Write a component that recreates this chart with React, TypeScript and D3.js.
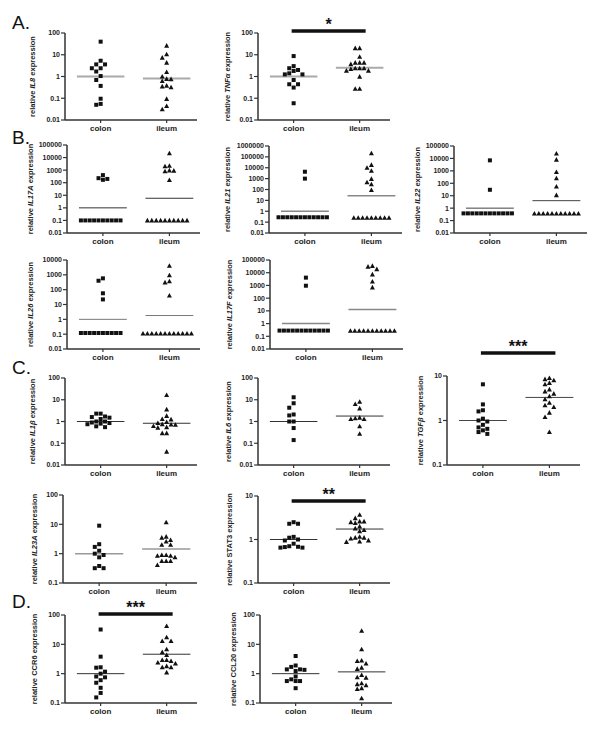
import React from 'react'
import * as d3 from 'd3'

// groups on the x axis
const categories = ['colon', 'ileum']

// A. relative expression
const il8Colon = [40, 5.3, 3.6, 3.6, 2.4, 2.4, 1.7, 1.05, 0.69, 0.37, 0.095, 0.05, 0.055]
const il8Ileum = [26, 10.5, 7.3, 4.3, 1.6, 1.0, 0.77, 0.75, 0.62, 0.38, 0.35, 0.32, 0.093, 0.044, 0.031]
const il8Median = [1, 0.8]

const tnfColon = [8.7, 3.0, 2.4, 2.0, 1.8, 1.4, 1.25, 1.25, 0.69, 0.44, 0.44, 0.31, 0.059]
const tnfIleum = [20, 20, 8.1, 4.3, 4.3, 4.3, 3.7, 2.4, 2.4, 2.4, 2.2, 1.85, 1.85, 0.98, 0.27, 0.27]
const tnfMedian = [1, 2.5]

// B.
const il17aColon = [400, 230, 200, 170, 0.1, 0.1, 0.1, 0.1, 0.1, 0.1, 0.1, 0.1, 0.1, 0.1]
const il17aIleum = [22000, 2200, 2000, 950, 900, 800, 165, 0.1, 0.1, 0.1, 0.1, 0.1, 0.1, 0.1, 0.1, 0.1, 0.1]
const il17aMedian = [1, 5.8]

const il21Colon = [4300, 1000, 0.28, 0.28, 0.28, 0.28, 0.28, 0.28, 0.28, 0.28, 0.28, 0.28, 0.28, 0.28]
const il21Ileum = [210000, 18000, 10000, 5300, 930, 460, 300, 90, 0.25, 0.25, 0.25, 0.25, 0.25, 0.25, 0.25, 0.25, 0.25]
const il21Median = [1, 27]

const il22Colon = [7000, 30, 0.38, 0.38, 0.38, 0.38, 0.38, 0.38, 0.38, 0.38, 0.38, 0.38, 0.38, 0.38]
const il22Ileum = [25000, 8000, 800, 250, 55, 11, 0.37, 0.37, 0.37, 0.37, 0.37, 0.37, 0.37, 0.37, 0.37, 0.37, 0.37]
const il22Median = [1, 4]

const il26Colon = [580, 400, 57, 22, 0.12, 0.12, 0.12, 0.12, 0.12, 0.12, 0.12, 0.12, 0.12, 0.12]
const il26Ileum = [4100, 930, 370, 310, 40, 0.11, 0.11, 0.11, 0.11, 0.11, 0.11, 0.11, 0.11, 0.11, 0.11, 0.11, 0.11]
const il26Median = [1, 1.8]

const il17fColon = [4100, 950, 0.28, 0.28, 0.28, 0.28, 0.28, 0.28, 0.28, 0.28, 0.28, 0.28, 0.28, 0.28]
const il17fIleum = [34000, 30000, 19000, 7400, 2000, 700, 0.27, 0.27, 0.27, 0.27, 0.27, 0.27, 0.27, 0.27, 0.27, 0.27, 0.27]
const il17fMedian = [1, 13]

// C.
const il1bColon = [2.3, 2.3, 1.7, 1.6, 1.5, 1.3, 1.0, 1.0, 0.9, 0.85, 0.8, 0.75, 0.6, 0.55]
const il1bIleum = [16.5, 3.6, 1.8, 1.3, 1.25, 0.95, 0.85, 0.75, 0.72, 0.7, 0.62, 0.55, 0.52, 0.29, 0.29, 0.041]
const il1bMedian = [1, 0.83]

const il6Colon = [13, 6.9, 4.3, 2.1, 1.9, 1.0, 1.0, 0.5, 0.14]
const il6Ileum = [8.1, 6.3, 4.0, 1.5, 1.4, 1.3, 1.3, 0.6, 0.27]
const il6Median = [1, 1.78]

const tgfbColon = [6.5, 2.3, 1.7, 1.6, 1.1, 1.0, 0.95, 0.8, 0.7, 0.65, 0.6, 0.55, 0.5]
const tgfbIleum = [9, 8.5, 8, 7, 6.5, 5, 4.5, 4, 3.5, 3, 2.5, 2.2, 2, 1.5, 1.2, 0.55]
const tgfbMedian = [1, 3.3]

const il23aColon = [9, 2.1, 1.7, 1.26, 1.0, 0.9, 0.75, 0.38, 0.32, 0.32]
const il23aIleum = [11.7, 3.8, 3.5, 2.9, 2.6, 2.0, 2.0, 0.9, 0.9, 0.85, 0.85, 0.75, 0.56, 0.56, 0.56, 0.41]
const il23aMedian = [1, 1.45]

const stat3Colon = [2.3, 2.3, 2.5, 1.15, 1.1, 1.0, 0.95, 0.8, 0.7, 0.67, 0.65, 0.65, 0.68]
const stat3Ileum = [3.7, 3.1, 2.6, 2.6, 2.5, 2.4, 2.0, 1.8, 1.65, 1.55, 1.15, 1.1, 1.1, 1.05, 0.95, 0.9, 0.88]
const stat3Median = [1, 1.74]

// D.
const ccr6Colon = [32, 3.8, 1.65, 1.6, 1.17, 1.0, 0.8, 0.75, 0.6, 0.49, 0.33, 0.22, 0.155]
const ccr6Ileum = [42, 17.4, 13, 13, 6.8, 5.4, 4.3, 2.9, 2.9, 2.7, 2.4, 2.2, 1.8, 1.65, 1.65, 1.1]
const ccr6Median = [1, 4.6]

const ccl20Colon = [4.0, 1.9, 1.7, 1.4, 1.4, 1.35, 1.23, 0.8, 0.64, 0.56, 0.56, 0.56, 0.32]
const ccl20Ileum = [29, 6.8, 2.8, 2.7, 2.2, 1.6, 1.45, 0.9, 0.75, 0.73, 0.47, 0.44, 0.4, 0.32, 0.3, 0.145]
const ccl20Median = [1, 1.15]

const FONT = 'Liberation Sans, Arial, Helvetica, sans-serif'

type Panel = {
  gene: string
  italic: boolean
  colon: number[]
  ileum: number[]
  median: number[]
  domain: [number, number]
  x0: number
  x1: number
  top: number
  bot: number
  titleDx: number
  medColor: string
  medWidth: number
  sig?: { y: number; text: string }
}

const panels: Panel[] = [
  { gene: 'IL8', italic: true, colon: il8Colon, ileum: il8Ileum, median: il8Median, domain: [0.01, 100], x0: 65, x1: 197, top: 33, bot: 120, titleDx: 30, medColor: '#aaa', medWidth: 2 },
  { gene: 'TNFα', italic: true, colon: tnfColon, ileum: tnfIleum, median: tnfMedian, domain: [0.01, 100], x0: 258, x1: 390, top: 33, bot: 120, titleDx: 28, medColor: '#aaa', medWidth: 2, sig: { y: 31, text: '*' } },
  { gene: 'IL17A', italic: true, colon: il17aColon, ileum: il17aIleum, median: il17aMedian, domain: [0.01, 1e5], x0: 67, x1: 200, top: 145, bot: 233, titleDx: 34, medColor: '#333', medWidth: 1 },
  { gene: 'IL21', italic: true, colon: il21Colon, ileum: il21Ileum, median: il21Median, domain: [0.01, 1e6], x0: 269, x1: 402, top: 146, bot: 233, titleDx: 39, medColor: '#888', medWidth: 1.5 },
  { gene: 'IL22', italic: true, colon: il22Colon, ileum: il22Ileum, median: il22Median, domain: [0.01, 1e5], x0: 454, x1: 587, top: 146, bot: 233, titleDx: 34, medColor: '#444', medWidth: 1 },
  { gene: 'IL26', italic: true, colon: il26Colon, ileum: il26Ileum, median: il26Median, domain: [0.01, 1e4], x0: 67, x1: 200, top: 260, bot: 349, titleDx: 34, medColor: '#777', medWidth: 1 },
  { gene: 'IL17F', italic: true, colon: il17fColon, ileum: il17fIleum, median: il17fMedian, domain: [0.01, 1e5], x0: 270, x1: 403, top: 260, bot: 349, titleDx: 38, medColor: '#888', medWidth: 1.5 },
  { gene: 'IL1β', italic: true, colon: il1bColon, ileum: il1bIleum, median: il1bMedian, domain: [0.01, 100], x0: 65, x1: 197, top: 378, bot: 465, titleDx: 30, medColor: '#333', medWidth: 1 },
  { gene: 'IL6', italic: true, colon: il6Colon, ileum: il6Ileum, median: il6Median, domain: [0.01, 100], x0: 258, x1: 390, top: 378, bot: 465, titleDx: 27, medColor: '#333', medWidth: 1 },
  { gene: 'TGFβ', italic: true, colon: tgfbColon, ileum: tgfbIleum, median: tgfbMedian, domain: [0.1, 10], x0: 447, x1: 580, top: 376, bot: 465, titleDx: 24, medColor: '#444', medWidth: 1, sig: { y: 353, text: '***' } },
  { gene: 'IL23A', italic: true, colon: il23aColon, ileum: il23aIleum, median: il23aMedian, domain: [0.1, 100], x0: 63, x1: 197, top: 495, bot: 583, titleDx: 26, medColor: '#999', medWidth: 1.5 },
  { gene: 'STAT3', italic: false, colon: stat3Colon, ileum: stat3Ileum, median: stat3Median, domain: [0.1, 10], x0: 258, x1: 390, top: 496, bot: 583, titleDx: 26, medColor: '#333', medWidth: 1, sig: { y: 501, text: '**' } },
  { gene: 'CCR6', italic: false, colon: ccr6Colon, ileum: ccr6Ileum, median: ccr6Median, domain: [0.1, 100], x0: 65, x1: 197, top: 615, bot: 703, titleDx: 28, medColor: '#333', medWidth: 1, sig: { y: 614, text: '***' } },
  { gene: 'CCL20', italic: false, colon: ccl20Colon, ileum: ccl20Ileum, median: ccl20Median, domain: [0.1, 100], x0: 260, x1: 392, top: 615, bot: 703, titleDx: 24, medColor: '#333', medWidth: 1 },
]

const letters = [
  { t: 'A.', x: 12, y: 29 },
  { t: 'B.', x: 12, y: 144 },
  { t: 'C.', x: 12, y: 374 },
  { t: 'D.', x: 12, y: 608 },
]

// simple beeswarm so points with similar values spread sideways
function swarm(vals: number[], y: (v: number) => number, cx: number, step: number, minDy: number) {
  const placed: { x: number; y: number }[] = []
  const out: { x: number; y: number }[] = new Array(vals.length)
  const order = vals.map((v, i) => ({ i, py: y(v) })).sort((a, b) => a.py - b.py)
  for (const p of order) {
    for (let k = 0; k < 60; k++) {
      const n = Math.ceil(k / 2)
      const off = k === 0 ? 0 : (k % 2 === 1 ? -n : n) * step
      const x = cx + off
      if (!placed.some(q => Math.abs(q.x - x) < step * 0.9 && Math.abs(q.y - p.py) < minDy)) {
        placed.push({ x, y: p.py })
        out[p.i] = { x, y: p.py }
        break
      }
    }
  }
  return out
}

function fmtTick(v: number) {
  const e = Math.round(Math.log10(v))
  return e < 0 ? v.toFixed(-e) : String(Math.round(v))
}

function ScatterPanel({ p }: { p: Panel }) {
  const y = d3.scaleLog().domain(p.domain).range([p.bot, p.top])
  const x = d3.scalePoint<string>().domain(categories).range([p.x0, p.x1]).padding(0.5).align(0.54)
  const e0 = Math.round(Math.log10(p.domain[0]))
  const e1 = Math.round(Math.log10(p.domain[1]))
  const ticks = d3.range(e0, e1 + 1).map(e => Math.pow(10, e))
  const half = (p.x1 - p.x0) * 0.18
  const cx = categories.map(c => x(c) as number)
  const colonPts = swarm(p.colon, y, cx[0], 4.4, 4.5)
  const ileumPts = swarm(p.ileum, y, cx[1], 4.4, 4.5)
  const midY = (p.top + p.bot) / 2
  const tx = p.x0 - p.titleDx
  return (
    <g>
      {/* y axis */}
      <line x1={p.x0} x2={p.x0} y1={p.top} y2={p.bot} stroke="#333" strokeWidth={1.5} />
      {ticks.map(t => (
        <g key={t}>
          <line x1={p.x0 - 4} x2={p.x0} y1={y(t)} y2={y(t)} stroke="#333" strokeWidth={1.2} />
          <text x={p.x0 - 5} y={y(t)} dy="0.35em" textAnchor="end" fontSize={7} fontWeight="bold" fill="#222" fontFamily={FONT}>
            {fmtTick(t)}
          </text>
        </g>
      ))}
      {/* x axis */}
      <line x1={p.x0} x2={p.x1} y1={p.bot} y2={p.bot} stroke="#333" strokeWidth={1.5} />
      {categories.map((c, i) => (
        <g key={c}>
          <line x1={cx[i]} x2={cx[i]} y1={p.bot} y2={p.bot + 3} stroke="#333" strokeWidth={1.2} />
          <text x={cx[i]} y={p.bot + 11} textAnchor="middle" fontSize={8} fontWeight="bold" fill="#222" fontFamily={FONT}>
            {c}
          </text>
        </g>
      ))}
      {/* y title */}
      <text transform={`translate(${tx},${midY}) rotate(-90)`} textAnchor="middle" fontSize={7.5} fontWeight="bold" fill="#222" fontFamily={FONT}>
        relative{p.italic ? ' ' : '  '}
        <tspan fontStyle={p.italic ? 'italic' : 'normal'}>{p.gene}</tspan>
        {' expression'}
      </text>
      {/* median lines */}
      {p.median.map((m, i) => (
        <line key={i} x1={cx[i] - half} x2={cx[i] + half} y1={y(m)} y2={y(m)} stroke={p.medColor} strokeWidth={p.medWidth} />
      ))}
      {/* points */}
      {colonPts.map((pt, i) => (
        <rect key={'c' + i} x={pt.x - 2} y={pt.y - 2} width={4} height={4} fill="#111" />
      ))}
      {ileumPts.map((pt, i) => (
        <path key={'i' + i} d={`M${pt.x},${pt.y - 2.6}L${pt.x + 2.5},${pt.y + 2}L${pt.x - 2.5},${pt.y + 2}Z`} fill="#111" />
      ))}
      {p.sig && (
        <g>
          <line x1={cx[0] - 2} x2={cx[1] + 6} y1={p.sig.y} y2={p.sig.y} stroke="#111" strokeWidth={3.5} />
          <text x={(cx[0] + cx[1]) / 2 + 2} y={p.sig.y - 1} textAnchor="middle" fontSize={16} fontWeight="bold" fill="#111" fontFamily={FONT}>
            {p.sig.text}
          </text>
        </g>
      )}
    </g>
  )
}

export default function App() {
  return (
    <div style={{ position: 'absolute', left: 0, top: 0 }}>
      <svg width={600} height={737} style={{ display: 'block', background: '#fff' }}>
        {letters.map(l => (
          <text key={l.t} x={l.x} y={l.y} fontSize={19} fill="#111" fontFamily={FONT}>
            {l.t}
          </text>
        ))}
        {panels.map(p => (
          <ScatterPanel key={p.gene} p={p} />
        ))}
      </svg>
    </div>
  )
}
